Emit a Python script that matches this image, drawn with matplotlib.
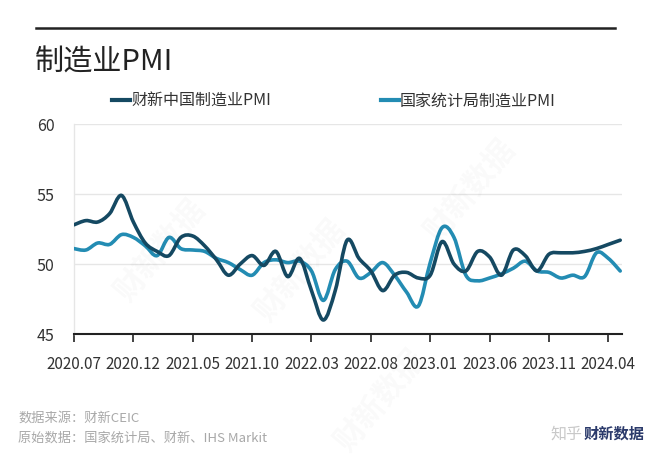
import numpy as np
import matplotlib
matplotlib.use("Agg")
import matplotlib.pyplot as plt
from matplotlib.path import Path
from matplotlib.patches import PathPatch
from matplotlib.lines import Line2D

plt.rcParams['font.family'] = ['Noto Sans CJK SC', 'DejaVu Sans']

months = ["2020.07", "2020.08", "2020.09", "2020.10", "2020.11", "2020.12",
          "2021.01", "2021.02", "2021.03", "2021.04", "2021.05", "2021.06",
          "2021.07", "2021.08", "2021.09", "2021.10", "2021.11", "2021.12",
          "2022.01", "2022.02", "2022.03", "2022.04", "2022.05", "2022.06",
          "2022.07", "2022.08", "2022.09", "2022.10", "2022.11", "2022.12",
          "2023.01", "2023.02", "2023.03", "2023.04", "2023.05", "2023.06",
          "2023.07", "2023.08", "2023.09", "2023.10", "2023.11", "2023.12",
          "2024.01", "2024.02", "2024.03", "2024.04", "2024.05"]

caixin_pmi = [52.8, 53.1, 53.0, 53.6, 54.9, 53.0,
              51.5, 50.9, 50.6, 51.9, 52.0, 51.3,
              50.3, 49.2, 50.0, 50.6, 49.9, 50.9,
              49.1, 50.4, 48.1, 46.0, 48.1, 51.7,
              50.4, 49.5, 48.1, 49.2, 49.4, 49.0,
              49.2, 51.6, 50.0, 49.5, 50.9, 50.5,
              49.2, 51.0, 50.6, 49.5, 50.7, 50.8,
              50.8, 50.9, 51.1, 51.4, 51.7]

nbs_pmi = [51.1, 51.0, 51.5, 51.4, 52.1, 51.9,
           51.3, 50.6, 51.9, 51.1, 51.0, 50.9,
           50.4, 50.1, 49.6, 49.2, 50.1, 50.3,
           50.1, 50.2, 49.5, 47.4, 49.6, 50.2,
           49.0, 49.4, 50.1, 49.2, 48.0, 47.0,
           50.1, 52.6, 51.9, 49.2, 48.8, 49.0,
           49.3, 49.7, 50.2, 49.5, 49.4, 49.0,
           49.2, 49.1, 50.8, 50.4, 49.5]

tick_labels = ["2020.07", "2020.12", "2021.05", "2021.10", "2022.03",
               "2022.08", "2023.01", "2023.06", "2023.11", "2024.04"]

series_names = ["财新中国制造业PMI", "国家统计局制造业PMI"]
colors = ["#154962", "#238cb3"]


def smooth_path(x, y):
    x = np.asarray(x, float)
    y = np.asarray(y, float)
    n = len(x)
    verts = [(x[0], y[0])]
    codes = [Path.MOVETO]
    for i in range(n - 1):
        i0 = max(i - 1, 0)
        i3 = min(i + 2, n - 1)
        c1 = (x[i] + (x[i + 1] - x[i0]) / 6.0, y[i] + (y[i + 1] - y[i0]) / 6.0)
        c2 = (x[i + 1] - (x[i3] - x[i]) / 6.0, y[i + 1] - (y[i3] - y[i]) / 6.0)
        verts += [c1, c2, (x[i + 1], y[i + 1])]
        codes += [Path.CURVE4] * 3
    return Path(verts, codes)


W, H = 650, 456
fig = plt.figure(figsize=(W / 100, H / 100), dpi=100)
fig.patch.set_facecolor("white")

ax_l, ax_r, ax_t, ax_b = 74, 622, 125, 335
ax = fig.add_axes([ax_l / W, 1 - ax_b / H, (ax_r - ax_l) / W, (ax_b - ax_t) / H])

x = np.arange(len(months))
ax.set_xlim(0, 46.15)
ax.set_ylim(45, 60)

for vals, col in zip([nbs_pmi, caixin_pmi], [colors[1], colors[0]]):
    p = PathPatch(smooth_path(x, vals), facecolor="none", edgecolor=col,
                  lw=2.6, capstyle="round", joinstyle="round",
                  transform=ax.transData, zorder=3)
    ax.add_patch(p)

ax.set_yticks([45, 50, 55, 60])
ax.yaxis.grid(True, color="#e6e6e6", lw=1.0)
ax.set_axisbelow(True)
tick_pos = [months.index(t) for t in tick_labels]
ax.set_xticks(tick_pos)
ax.set_xticklabels(tick_labels)
ax.tick_params(axis="x", direction="out", length=6, width=1.2, color="#222222",
               labelsize=11, labelcolor="#333333", pad=9)
ax.tick_params(axis="y", length=0, labelsize=11.5, labelcolor="#333333", pad=14)
for s in ["top", "right"]:
    ax.spines[s].set_visible(False)
ax.spines["left"].set_color("#e6e6e6")
ax.spines["left"].set_linewidth(1.0)
ax.spines["bottom"].set_color("#222222")
ax.spines["bottom"].set_linewidth(1.5)

# top rule
fig.add_artist(Line2D([36 / W, 615 / W], [1 - 29 / H, 1 - 29 / H], color="#222222", lw=1.8))

# title
fig.text(35 / W, 1 - 63 / H, "制造业PMI", fontsize=21, color="#222222", va="center", ha="left")

# legend
for (x0, name, col) in [(112, series_names[0], colors[0]), (381, series_names[1], colors[1])]:
    fig.add_artist(Line2D([x0 / W, (x0 + 18) / W], [1 - 101 / H, 1 - 101 / H], color=col, lw=3))
    fig.text((x0 + 19) / W, 1 - 101 / H, name, fontsize=11.5, color="#333333",
             va="center", ha="left")

# footer
fig.text(18 / W, 1 - 418 / H, "数据来源：财新CEIC", fontsize=9.5, color="#a8a8a8", va="center")
fig.text(18 / W, 1 - 438 / H, "原始数据：国家统计局、财新、IHS Markit", fontsize=9.5, color="#a8a8a8", va="center")
fig.text(582 / W, 1 - 434 / H, "知乎", fontsize=11.5, color="#c8c8c8", va="center", ha="right")
fig.text(584 / W, 1 - 434 / H, "财新数据", fontsize=11, color="#2b3a6b", va="center",
         ha="left", fontweight="bold")

# faint watermarks
for (wx, wy) in [(300, 270), (470, 190), (160, 250), (380, 400)]:
    fig.text(wx / W, 1 - wy / H, "财新数据", fontsize=22, color="#000000", alpha=0.025,
             rotation=50, ha="center", va="center", fontweight="bold")

fig.savefig("out.png", dpi=100, facecolor="white")
